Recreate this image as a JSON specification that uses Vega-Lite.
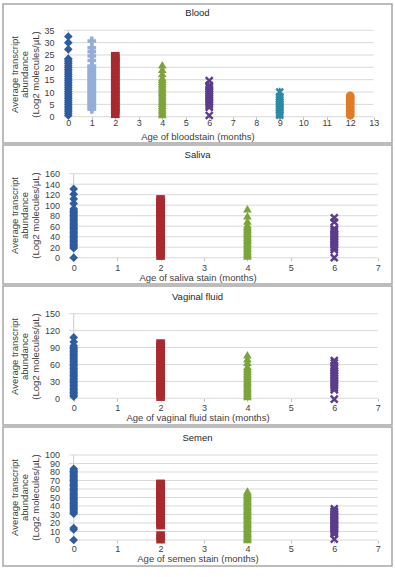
{
  "$schema": "https://vega.github.io/schema/vega-lite/v6.json",
  "background": "white",
  "padding": {"left": 2, "top": 3, "right": 0, "bottom": 0},
  "spacing": 0,
  "datasets": {
    "pts": [
      {"p":"B","age":0,"v":0.5},{"p":"B","age":0,"v":1.25},{"p":"B","age":0,"v":2},{"p":"B","age":0,"v":2.75},{"p":"B","age":0,"v":3.5},{"p":"B","age":0,"v":4.25},{"p":"B","age":0,"v":5},{"p":"B","age":0,"v":5.75},{"p":"B","age":0,"v":6.5},{"p":"B","age":0,"v":7.25},{"p":"B","age":0,"v":8},{"p":"B","age":0,"v":8.75},{"p":"B","age":0,"v":9.5},{"p":"B","age":0,"v":10.25},{"p":"B","age":0,"v":11},{"p":"B","age":0,"v":11.75},{"p":"B","age":0,"v":12.5},{"p":"B","age":0,"v":13.25},{"p":"B","age":0,"v":14},{"p":"B","age":0,"v":14.75},{"p":"B","age":0,"v":15.5},{"p":"B","age":0,"v":16.25},{"p":"B","age":0,"v":17},{"p":"B","age":0,"v":17.75},{"p":"B","age":0,"v":18.5},{"p":"B","age":0,"v":19.25},{"p":"B","age":0,"v":20},{"p":"B","age":0,"v":20.75},{"p":"B","age":0,"v":21.5},{"p":"B","age":0,"v":22.25},{"p":"B","age":0,"v":23},{"p":"B","age":0,"v":23.5},{"p":"B","age":0,"v":27.3},{"p":"B","age":0,"v":30},{"p":"B","age":0,"v":32.5},
      {"p":"B","age":1,"v":3},{"p":"B","age":1,"v":3.75},{"p":"B","age":1,"v":4.5},{"p":"B","age":1,"v":5.25},{"p":"B","age":1,"v":6},{"p":"B","age":1,"v":6.75},{"p":"B","age":1,"v":7.5},{"p":"B","age":1,"v":8.25},{"p":"B","age":1,"v":9},{"p":"B","age":1,"v":9.75},{"p":"B","age":1,"v":10.5},{"p":"B","age":1,"v":11.25},{"p":"B","age":1,"v":12},{"p":"B","age":1,"v":12.75},{"p":"B","age":1,"v":13.5},{"p":"B","age":1,"v":14.25},{"p":"B","age":1,"v":15},{"p":"B","age":1,"v":15.75},{"p":"B","age":1,"v":16.5},{"p":"B","age":1,"v":17.25},{"p":"B","age":1,"v":18},{"p":"B","age":1,"v":18.75},{"p":"B","age":1,"v":19.5},{"p":"B","age":1,"v":20.25},{"p":"B","age":1,"v":20.5},{"p":"B","age":1,"v":22.8},{"p":"B","age":1,"v":24.6},{"p":"B","age":1,"v":26.3},{"p":"B","age":1,"v":27.9},{"p":"B","age":1,"v":30.7},
      {"p":"B","age":2,"v":1.2},{"p":"B","age":2,"v":2.7},{"p":"B","age":2,"v":4.2},{"p":"B","age":2,"v":5.7},{"p":"B","age":2,"v":7.2},{"p":"B","age":2,"v":8.7},{"p":"B","age":2,"v":10.2},{"p":"B","age":2,"v":11.7},{"p":"B","age":2,"v":13.2},{"p":"B","age":2,"v":14.7},{"p":"B","age":2,"v":16.2},{"p":"B","age":2,"v":17.7},{"p":"B","age":2,"v":19.2},{"p":"B","age":2,"v":20.7},{"p":"B","age":2,"v":22.2},{"p":"B","age":2,"v":23.7},{"p":"B","age":2,"v":24.5},
      {"p":"B","age":4,"v":0.9},{"p":"B","age":4,"v":1.65},{"p":"B","age":4,"v":2.4},{"p":"B","age":4,"v":3.15},{"p":"B","age":4,"v":3.9},{"p":"B","age":4,"v":4.65},{"p":"B","age":4,"v":5.4},{"p":"B","age":4,"v":6.15},{"p":"B","age":4,"v":6.9},{"p":"B","age":4,"v":7.65},{"p":"B","age":4,"v":8.4},{"p":"B","age":4,"v":9.15},{"p":"B","age":4,"v":9.9},{"p":"B","age":4,"v":10.65},{"p":"B","age":4,"v":11.4},{"p":"B","age":4,"v":12.15},{"p":"B","age":4,"v":12.9},{"p":"B","age":4,"v":13.65},{"p":"B","age":4,"v":14.4},{"p":"B","age":4,"v":15.15},{"p":"B","age":4,"v":15.9},{"p":"B","age":4,"v":17.5},{"p":"B","age":4,"v":19.2},{"p":"B","age":4,"v":21},
      {"p":"B","age":6,"v":0.5},{"p":"B","age":6,"v":3.8},{"p":"B","age":6,"v":4.55},{"p":"B","age":6,"v":5.3},{"p":"B","age":6,"v":6.05},{"p":"B","age":6,"v":6.8},{"p":"B","age":6,"v":7.55},{"p":"B","age":6,"v":8.3},{"p":"B","age":6,"v":9.05},{"p":"B","age":6,"v":9.8},{"p":"B","age":6,"v":10.55},{"p":"B","age":6,"v":11.3},{"p":"B","age":6,"v":12.05},{"p":"B","age":6,"v":12.7},{"p":"B","age":6,"v":14.6},
      {"p":"B","age":9,"v":0.6},{"p":"B","age":9,"v":1.35},{"p":"B","age":9,"v":2.1},{"p":"B","age":9,"v":2.85},{"p":"B","age":9,"v":3.6},{"p":"B","age":9,"v":4.35},{"p":"B","age":9,"v":5.1},{"p":"B","age":9,"v":5.85},{"p":"B","age":9,"v":6.6},{"p":"B","age":9,"v":7.35},{"p":"B","age":9,"v":8.1},{"p":"B","age":9,"v":10},
      {"p":"B","age":12,"v":0.6},{"p":"B","age":12,"v":1.35},{"p":"B","age":12,"v":2.1},{"p":"B","age":12,"v":2.85},{"p":"B","age":12,"v":3.6},{"p":"B","age":12,"v":4.35},{"p":"B","age":12,"v":5.1},{"p":"B","age":12,"v":5.85},{"p":"B","age":12,"v":6.6},{"p":"B","age":12,"v":7.35},{"p":"B","age":12,"v":8.1},{"p":"B","age":12,"v":8.5},

      {"p":"S","age":0,"v":0},{"p":"S","age":0,"v":18},{"p":"S","age":0,"v":20.5},{"p":"S","age":0,"v":23},{"p":"S","age":0,"v":25.5},{"p":"S","age":0,"v":28},{"p":"S","age":0,"v":30.5},{"p":"S","age":0,"v":33},{"p":"S","age":0,"v":35.5},{"p":"S","age":0,"v":38},{"p":"S","age":0,"v":40.5},{"p":"S","age":0,"v":43},{"p":"S","age":0,"v":45.5},{"p":"S","age":0,"v":48},{"p":"S","age":0,"v":50.5},{"p":"S","age":0,"v":53},{"p":"S","age":0,"v":55.5},{"p":"S","age":0,"v":58},{"p":"S","age":0,"v":60.5},{"p":"S","age":0,"v":63},{"p":"S","age":0,"v":65.5},{"p":"S","age":0,"v":68},{"p":"S","age":0,"v":70.5},{"p":"S","age":0,"v":73},{"p":"S","age":0,"v":75.5},{"p":"S","age":0,"v":78},{"p":"S","age":0,"v":80.5},{"p":"S","age":0,"v":83},{"p":"S","age":0,"v":85.5},{"p":"S","age":0,"v":88},{"p":"S","age":0,"v":90.5},{"p":"S","age":0,"v":93},{"p":"S","age":0,"v":103},{"p":"S","age":0,"v":112},{"p":"S","age":0,"v":121},{"p":"S","age":0,"v":131},
      {"p":"S","age":2,"v":4},{"p":"S","age":2,"v":10},{"p":"S","age":2,"v":16},{"p":"S","age":2,"v":22},{"p":"S","age":2,"v":28},{"p":"S","age":2,"v":34},{"p":"S","age":2,"v":40},{"p":"S","age":2,"v":46},{"p":"S","age":2,"v":52},{"p":"S","age":2,"v":58},{"p":"S","age":2,"v":64},{"p":"S","age":2,"v":70},{"p":"S","age":2,"v":76},{"p":"S","age":2,"v":82},{"p":"S","age":2,"v":88},{"p":"S","age":2,"v":94},{"p":"S","age":2,"v":100},{"p":"S","age":2,"v":106},{"p":"S","age":2,"v":111},
      {"p":"S","age":4,"v":3},{"p":"S","age":4,"v":6},{"p":"S","age":4,"v":9},{"p":"S","age":4,"v":12},{"p":"S","age":4,"v":15},{"p":"S","age":4,"v":18},{"p":"S","age":4,"v":21},{"p":"S","age":4,"v":24},{"p":"S","age":4,"v":27},{"p":"S","age":4,"v":30},{"p":"S","age":4,"v":33},{"p":"S","age":4,"v":36},{"p":"S","age":4,"v":39},{"p":"S","age":4,"v":42},{"p":"S","age":4,"v":45},{"p":"S","age":4,"v":48},{"p":"S","age":4,"v":51},{"p":"S","age":4,"v":54},{"p":"S","age":4,"v":57},{"p":"S","age":4,"v":60},{"p":"S","age":4,"v":63},{"p":"S","age":4,"v":70},{"p":"S","age":4,"v":80},{"p":"S","age":4,"v":93},
      {"p":"S","age":6,"v":0},{"p":"S","age":6,"v":15},{"p":"S","age":6,"v":18},{"p":"S","age":6,"v":21},{"p":"S","age":6,"v":24},{"p":"S","age":6,"v":27},{"p":"S","age":6,"v":30},{"p":"S","age":6,"v":33},{"p":"S","age":6,"v":36},{"p":"S","age":6,"v":39},{"p":"S","age":6,"v":42},{"p":"S","age":6,"v":45},{"p":"S","age":6,"v":48},{"p":"S","age":6,"v":51},{"p":"S","age":6,"v":54},{"p":"S","age":6,"v":55},{"p":"S","age":6,"v":68},{"p":"S","age":6,"v":76},

      {"p":"V","age":0,"v":3},{"p":"V","age":0,"v":5.5},{"p":"V","age":0,"v":8},{"p":"V","age":0,"v":10.5},{"p":"V","age":0,"v":13},{"p":"V","age":0,"v":15.5},{"p":"V","age":0,"v":18},{"p":"V","age":0,"v":20.5},{"p":"V","age":0,"v":23},{"p":"V","age":0,"v":25.5},{"p":"V","age":0,"v":28},{"p":"V","age":0,"v":30.5},{"p":"V","age":0,"v":33},{"p":"V","age":0,"v":35.5},{"p":"V","age":0,"v":38},{"p":"V","age":0,"v":40.5},{"p":"V","age":0,"v":43},{"p":"V","age":0,"v":45.5},{"p":"V","age":0,"v":48},{"p":"V","age":0,"v":50.5},{"p":"V","age":0,"v":53},{"p":"V","age":0,"v":55.5},{"p":"V","age":0,"v":58},{"p":"V","age":0,"v":60.5},{"p":"V","age":0,"v":63},{"p":"V","age":0,"v":65.5},{"p":"V","age":0,"v":68},{"p":"V","age":0,"v":70.5},{"p":"V","age":0,"v":73},{"p":"V","age":0,"v":75.5},{"p":"V","age":0,"v":78},{"p":"V","age":0,"v":80.5},{"p":"V","age":0,"v":83},{"p":"V","age":0,"v":85.5},{"p":"V","age":0,"v":88},{"p":"V","age":0,"v":90.5},{"p":"V","age":0,"v":93},{"p":"V","age":0,"v":100},{"p":"V","age":0,"v":108},
      {"p":"V","age":2,"v":3},{"p":"V","age":2,"v":9},{"p":"V","age":2,"v":15},{"p":"V","age":2,"v":21},{"p":"V","age":2,"v":27},{"p":"V","age":2,"v":33},{"p":"V","age":2,"v":39},{"p":"V","age":2,"v":45},{"p":"V","age":2,"v":51},{"p":"V","age":2,"v":57},{"p":"V","age":2,"v":63},{"p":"V","age":2,"v":69},{"p":"V","age":2,"v":75},{"p":"V","age":2,"v":81},{"p":"V","age":2,"v":87},{"p":"V","age":2,"v":93},{"p":"V","age":2,"v":97},
      {"p":"V","age":4,"v":3},{"p":"V","age":4,"v":6},{"p":"V","age":4,"v":9},{"p":"V","age":4,"v":12},{"p":"V","age":4,"v":15},{"p":"V","age":4,"v":18},{"p":"V","age":4,"v":21},{"p":"V","age":4,"v":24},{"p":"V","age":4,"v":27},{"p":"V","age":4,"v":30},{"p":"V","age":4,"v":33},{"p":"V","age":4,"v":36},{"p":"V","age":4,"v":39},{"p":"V","age":4,"v":42},{"p":"V","age":4,"v":45},{"p":"V","age":4,"v":48},{"p":"V","age":4,"v":51},{"p":"V","age":4,"v":54},{"p":"V","age":4,"v":57},{"p":"V","age":4,"v":64},{"p":"V","age":4,"v":70},{"p":"V","age":4,"v":77},
      {"p":"V","age":6,"v":-1.5},{"p":"V","age":6,"v":15},{"p":"V","age":6,"v":18},{"p":"V","age":6,"v":21},{"p":"V","age":6,"v":24},{"p":"V","age":6,"v":27},{"p":"V","age":6,"v":30},{"p":"V","age":6,"v":33},{"p":"V","age":6,"v":36},{"p":"V","age":6,"v":39},{"p":"V","age":6,"v":42},{"p":"V","age":6,"v":45},{"p":"V","age":6,"v":48},{"p":"V","age":6,"v":51},{"p":"V","age":6,"v":54},{"p":"V","age":6,"v":57},{"p":"V","age":6,"v":63},{"p":"V","age":6,"v":67},

      {"p":"M","age":0,"v":0},{"p":"M","age":0,"v":12.3},{"p":"M","age":0,"v":14},{"p":"M","age":0,"v":31},{"p":"M","age":0,"v":32.5},{"p":"M","age":0,"v":34},{"p":"M","age":0,"v":35.5},{"p":"M","age":0,"v":37},{"p":"M","age":0,"v":38.5},{"p":"M","age":0,"v":40},{"p":"M","age":0,"v":41.5},{"p":"M","age":0,"v":43},{"p":"M","age":0,"v":44.5},{"p":"M","age":0,"v":46},{"p":"M","age":0,"v":47.5},{"p":"M","age":0,"v":49},{"p":"M","age":0,"v":50.5},{"p":"M","age":0,"v":52},{"p":"M","age":0,"v":53.5},{"p":"M","age":0,"v":55},{"p":"M","age":0,"v":56.5},{"p":"M","age":0,"v":58},{"p":"M","age":0,"v":59.5},{"p":"M","age":0,"v":61},{"p":"M","age":0,"v":62.5},{"p":"M","age":0,"v":64},{"p":"M","age":0,"v":65.5},{"p":"M","age":0,"v":67},{"p":"M","age":0,"v":68.5},{"p":"M","age":0,"v":70},{"p":"M","age":0,"v":71.5},{"p":"M","age":0,"v":73},{"p":"M","age":0,"v":74.5},{"p":"M","age":0,"v":76},{"p":"M","age":0,"v":77.5},{"p":"M","age":0,"v":79},{"p":"M","age":0,"v":80.5},{"p":"M","age":0,"v":82},{"p":"M","age":0,"v":83.7},
      {"p":"M","age":2,"v":1},{"p":"M","age":2,"v":5.2},{"p":"M","age":2,"v":17.5},{"p":"M","age":2,"v":20.5},{"p":"M","age":2,"v":23.5},{"p":"M","age":2,"v":26.5},{"p":"M","age":2,"v":29.5},{"p":"M","age":2,"v":32.5},{"p":"M","age":2,"v":35.5},{"p":"M","age":2,"v":38.5},{"p":"M","age":2,"v":41.5},{"p":"M","age":2,"v":44.5},{"p":"M","age":2,"v":47.5},{"p":"M","age":2,"v":50.5},{"p":"M","age":2,"v":53.5},{"p":"M","age":2,"v":56.5},{"p":"M","age":2,"v":59.5},{"p":"M","age":2,"v":62.5},{"p":"M","age":2,"v":65.5},{"p":"M","age":2,"v":66},
      {"p":"M","age":4,"v":0.5},{"p":"M","age":4,"v":2},{"p":"M","age":4,"v":3.5},{"p":"M","age":4,"v":5},{"p":"M","age":4,"v":6.5},{"p":"M","age":4,"v":8},{"p":"M","age":4,"v":9.5},{"p":"M","age":4,"v":11},{"p":"M","age":4,"v":12.5},{"p":"M","age":4,"v":14},{"p":"M","age":4,"v":15.5},{"p":"M","age":4,"v":17},{"p":"M","age":4,"v":18.5},{"p":"M","age":4,"v":20},{"p":"M","age":4,"v":21.5},{"p":"M","age":4,"v":23},{"p":"M","age":4,"v":24.5},{"p":"M","age":4,"v":26},{"p":"M","age":4,"v":27.5},{"p":"M","age":4,"v":29},{"p":"M","age":4,"v":30.5},{"p":"M","age":4,"v":32},{"p":"M","age":4,"v":33.5},{"p":"M","age":4,"v":35},{"p":"M","age":4,"v":36.5},{"p":"M","age":4,"v":38},{"p":"M","age":4,"v":39.5},{"p":"M","age":4,"v":41},{"p":"M","age":4,"v":42.5},{"p":"M","age":4,"v":44},{"p":"M","age":4,"v":45.5},{"p":"M","age":4,"v":47},{"p":"M","age":4,"v":48.5},{"p":"M","age":4,"v":50},{"p":"M","age":4,"v":51.5},{"p":"M","age":4,"v":53},{"p":"M","age":4,"v":54.5},{"p":"M","age":4,"v":56},{"p":"M","age":4,"v":57.5},
      {"p":"M","age":6,"v":1},{"p":"M","age":6,"v":7},{"p":"M","age":6,"v":8.5},{"p":"M","age":6,"v":10},{"p":"M","age":6,"v":11.5},{"p":"M","age":6,"v":13},{"p":"M","age":6,"v":14.5},{"p":"M","age":6,"v":16},{"p":"M","age":6,"v":17.5},{"p":"M","age":6,"v":19},{"p":"M","age":6,"v":20.5},{"p":"M","age":6,"v":22},{"p":"M","age":6,"v":23.5},{"p":"M","age":6,"v":25},{"p":"M","age":6,"v":26.5},{"p":"M","age":6,"v":28},{"p":"M","age":6,"v":29.5},{"p":"M","age":6,"v":31},{"p":"M","age":6,"v":32.5},{"p":"M","age":6,"v":34},{"p":"M","age":6,"v":36.7}
    ]
  },
  "vconcat": [
    {
      "width": 389, "height": 139,
      "title": {"text": "Blood", "offset": -13},
      "layer": [
        {
          "data": {"values": [{"g":0},{"g":5},{"g":10},{"g":15},{"g":20},{"g":25},{"g":30},{"g":35}]},
          "mark": {"type": "rule", "color": "#d9d9d9", "strokeWidth": 1},
          "encoding": {
            "y": {"field": "g", "type": "quantitative", "scale": {"domain": [-10.65, 45.65], "nice": false, "zero": false},
                  "axis": {"values": [0,5,10,15,20,25,30,35], "offset": -61, "labelPadding": 10, "title": ["Average transcript", "abundance", "(Log2 molecules/µL)"], "titleX": -50, "titleY": 70}},
            "x": {"datum": -0.18, "type": "quantitative", "scale": {"domain": [-2.78, 13.78], "nice": false, "zero": false},
                  "axis": {"values": [0,1,2,3,4,5,6,7,8,9,10,11,12,13], "offset": -26.3, "labelPadding": 3.1, "title": "Age of bloodstain (months)", "titleY": 20}},
            "x2": {"datum": 13}
          }
        },
        {
          "data": {"values": [{}]},
          "mark": {"type": "rule", "color": "#cccccc", "strokeWidth": 1},
          "encoding": {
            "x": {"datum": 0, "type": "quantitative", "scale": {"domain": [-2.78, 13.78], "nice": false, "zero": false},
                  "axis": {"values": [0,1,2,3,4,5,6,7,8,9,10,11,12,13], "offset": -26.3, "labelPadding": 3.1, "title": "Age of bloodstain (months)", "titleY": 20}},
            "y": {"datum": 0, "type": "quantitative", "scale": {"domain": [-10.65, 45.65], "nice": false, "zero": false},
                  "axis": {"values": [0,5,10,15,20,25,30,35], "offset": -61, "labelPadding": 10, "title": ["Average transcript", "abundance", "(Log2 molecules/µL)"], "titleX": -50, "titleY": 70}},
            "y2": {"datum": 35}
          }
        },
        {
          "data": {"name": "pts"},
          "transform": [{"filter": "datum.p === 'B'"}],
          "mark": {"type": "point", "filled": true, "opacity": 1, "size": 75, "strokeWidth": 0},
          "encoding": {
            "x": {"field": "age", "type": "quantitative", "scale": {"domain": [-2.78, 13.78], "nice": false, "zero": false},
                  "axis": {"values": [0,1,2,3,4,5,6,7,8,9,10,11,12,13], "offset": -26.3, "labelPadding": 3.1, "title": "Age of bloodstain (months)", "titleY": 20}},
            "y": {"field": "v", "type": "quantitative", "scale": {"domain": [-10.65, 45.65], "nice": false, "zero": false},
                  "axis": {"values": [0,5,10,15,20,25,30,35], "offset": -61, "labelPadding": 10, "title": ["Average transcript", "abundance", "(Log2 molecules/µL)"], "titleX": -50, "titleY": 70}},
            "color": {"field": "age", "type": "nominal", "legend": null,
                      "scale": {"domain": [0,1,2,4,6,9,12], "range": ["#2f5c9f","#95add8","#a8292e","#7ca43a","#5c3c8c","#2c8aa8","#e07b28"]}},
            "shape": {"field": "age", "type": "nominal", "legend": null,
                      "scale": {"domain": [0,1,2,4,6,9,12], "range": ["diamond","cross","square","triangle-up","M-1,-0.6L-0.6,-1L0,-0.4L0.6,-1L1,-0.6L0.4,0L1,0.6L0.6,1L0,0.4L-0.6,1L-1,0.6L-0.4,0Z","M-1,-0.6L-0.6,-1L0,-0.4L0.6,-1L1,-0.6L0.4,0L1,0.6L0.6,1L0,0.4L-0.6,1L-1,0.6L-0.4,0Z M-0.2,-1H0.2V1H-0.2Z","circle"]}}
          }
        }
      ]
    },
    {
      "width": 389, "height": 139,
      "title": {"text": "Saliva", "offset": -14.3},
      "layer": [
        {
          "data": {"values": [{"g":0},{"g":20},{"g":40},{"g":60},{"g":80},{"g":100},{"g":120},{"g":140},{"g":160}]},
          "mark": {"type": "rule", "color": "#d9d9d9", "strokeWidth": 1},
          "encoding": {
            "y": {"field": "g", "type": "quantitative", "scale": {"domain": [-50.1, 214.67], "nice": false, "zero": false},
                  "axis": {"values": [0,20,40,60,80,100,120,140,160], "offset": -66, "labelPadding": 9.5, "title": ["Average transcript", "abundance", "(Log2 molecules/µL)"], "titleX": -55, "titleY": 70}},
            "x": {"datum": -0.11, "type": "quantitative", "scale": {"domain": [-1.628, 7.329], "nice": false, "zero": false},
                  "axis": {"values": [0,1,2,3,4,5,6,7], "offset": -26.3, "labelPadding": 6.3, "title": "Age of saliva stain (months)", "titleY": 19.3}},
            "x2": {"datum": 7}
          }
        },
        {
          "data": {"values": [{}]},
          "mark": {"type": "rule", "color": "#cccccc", "strokeWidth": 1},
          "encoding": {
            "x": {"datum": 0, "type": "quantitative", "scale": {"domain": [-1.628, 7.329], "nice": false, "zero": false},
                  "axis": {"values": [0,1,2,3,4,5,6,7], "offset": -26.3, "labelPadding": 6.3, "title": "Age of saliva stain (months)", "titleY": 19.3}},
            "y": {"datum": 0, "type": "quantitative", "scale": {"domain": [-50.1, 214.67], "nice": false, "zero": false},
                  "axis": {"values": [0,20,40,60,80,100,120,140,160], "offset": -66, "labelPadding": 9.5, "title": ["Average transcript", "abundance", "(Log2 molecules/µL)"], "titleX": -55, "titleY": 70}},
            "y2": {"datum": 160}
          }
        },
        {
          "data": {"name": "pts"},
          "transform": [{"filter": "datum.p === 'S'"}],
          "mark": {"type": "point", "filled": true, "opacity": 1, "size": 75, "strokeWidth": 0},
          "encoding": {
            "x": {"field": "age", "type": "quantitative", "scale": {"domain": [-1.628, 7.329], "nice": false, "zero": false},
                  "axis": {"values": [0,1,2,3,4,5,6,7], "offset": -26.3, "labelPadding": 6.3, "title": "Age of saliva stain (months)", "titleY": 19.3}},
            "y": {"field": "v", "type": "quantitative", "scale": {"domain": [-50.1, 214.67], "nice": false, "zero": false},
                  "axis": {"values": [0,20,40,60,80,100,120,140,160], "offset": -66, "labelPadding": 9.5, "title": ["Average transcript", "abundance", "(Log2 molecules/µL)"], "titleX": -55, "titleY": 70}},
            "color": {"field": "age", "type": "nominal", "legend": null,
                      "scale": {"domain": [0,1,2,4,6,9,12], "range": ["#2f5c9f","#95add8","#a8292e","#7ca43a","#5c3c8c","#2c8aa8","#e07b28"]}},
            "shape": {"field": "age", "type": "nominal", "legend": null,
                      "scale": {"domain": [0,1,2,4,6,9,12], "range": ["diamond","cross","square","triangle-up","M-1,-0.6L-0.6,-1L0,-0.4L0.6,-1L1,-0.6L0.4,0L1,0.6L0.6,1L0,0.4L-0.6,1L-1,0.6L-0.4,0Z","M-1,-0.6L-0.6,-1L0,-0.4L0.6,-1L1,-0.6L0.4,0L1,0.6L0.6,1L0,0.4L-0.6,1L-1,0.6L-0.4,0Z M-0.2,-1H0.2V1H-0.2Z","circle"]}}
          }
        }
      ]
    },
    {
      "width": 389, "height": 139,
      "title": {"text": "Vaginal fluid", "offset": -15},
      "layer": [
        {
          "data": {"values": [{"g":0},{"g":30},{"g":60},{"g":90},{"g":120},{"g":150}]},
          "mark": {"type": "rule", "color": "#d9d9d9", "strokeWidth": 1},
          "encoding": {
            "y": {"field": "g", "type": "quantitative", "scale": {"domain": [-47.34, 199.1], "nice": false, "zero": false},
                  "axis": {"values": [0,30,60,90,120,150], "offset": -66, "labelPadding": 9.5, "title": ["Average transcript", "abundance", "(Log2 molecules/µL)"], "titleX": -55, "titleY": 70}},
            "x": {"datum": -0.11, "type": "quantitative", "scale": {"domain": [-1.628, 7.329], "nice": false, "zero": false},
                  "axis": {"values": [0,1,2,3,4,5,6,7], "offset": -26.7, "labelPadding": 6.4, "title": "Age of vaginal fluid stain (months)", "titleY": 19.4}},
            "x2": {"datum": 7}
          }
        },
        {
          "data": {"values": [{}]},
          "mark": {"type": "rule", "color": "#cccccc", "strokeWidth": 1},
          "encoding": {
            "x": {"datum": 0, "type": "quantitative", "scale": {"domain": [-1.628, 7.329], "nice": false, "zero": false},
                  "axis": {"values": [0,1,2,3,4,5,6,7], "offset": -26.7, "labelPadding": 6.4, "title": "Age of vaginal fluid stain (months)", "titleY": 19.4}},
            "y": {"datum": 0, "type": "quantitative", "scale": {"domain": [-47.34, 199.1], "nice": false, "zero": false},
                  "axis": {"values": [0,30,60,90,120,150], "offset": -66, "labelPadding": 9.5, "title": ["Average transcript", "abundance", "(Log2 molecules/µL)"], "titleX": -55, "titleY": 70}},
            "y2": {"datum": 150}
          }
        },
        {
          "data": {"name": "pts"},
          "transform": [{"filter": "datum.p === 'V'"}],
          "mark": {"type": "point", "filled": true, "opacity": 1, "size": 75, "strokeWidth": 0},
          "encoding": {
            "x": {"field": "age", "type": "quantitative", "scale": {"domain": [-1.628, 7.329], "nice": false, "zero": false},
                  "axis": {"values": [0,1,2,3,4,5,6,7], "offset": -26.7, "labelPadding": 6.4, "title": "Age of vaginal fluid stain (months)", "titleY": 19.4}},
            "y": {"field": "v", "type": "quantitative", "scale": {"domain": [-47.34, 199.1], "nice": false, "zero": false},
                  "axis": {"values": [0,30,60,90,120,150], "offset": -66, "labelPadding": 9.5, "title": ["Average transcript", "abundance", "(Log2 molecules/µL)"], "titleX": -55, "titleY": 70}},
            "color": {"field": "age", "type": "nominal", "legend": null,
                      "scale": {"domain": [0,1,2,4,6,9,12], "range": ["#2f5c9f","#95add8","#a8292e","#7ca43a","#5c3c8c","#2c8aa8","#e07b28"]}},
            "shape": {"field": "age", "type": "nominal", "legend": null,
                      "scale": {"domain": [0,1,2,4,6,9,12], "range": ["diamond","cross","square","triangle-up","M-1,-0.6L-0.6,-1L0,-0.4L0.6,-1L1,-0.6L0.4,0L1,0.6L0.6,1L0,0.4L-0.6,1L-1,0.6L-0.4,0Z","M-1,-0.6L-0.6,-1L0,-0.4L0.6,-1L1,-0.6L0.4,0L1,0.6L0.6,1L0,0.4L-0.6,1L-1,0.6L-0.4,0Z M-0.2,-1H0.2V1H-0.2Z","circle"]}}
          }
        }
      ]
    },
    {
      "width": 389, "height": 139,
      "title": {"text": "Semen", "offset": -15},
      "layer": [
        {
          "data": {"values": [{"g":0},{"g":10},{"g":20},{"g":30},{"g":40},{"g":50},{"g":60},{"g":70},{"g":80},{"g":90},{"g":100}]},
          "mark": {"type": "rule", "color": "#d9d9d9", "strokeWidth": 1},
          "encoding": {
            "y": {"field": "g", "type": "quantitative", "scale": {"domain": [-30.59, 132.9], "nice": false, "zero": false},
                  "axis": {"values": [0,10,20,30,40,50,60,70,80,90,100], "offset": -66, "labelPadding": 9.5, "title": ["Average transcript", "abundance", "(Log2 molecules/µL)"], "titleX": -55, "titleY": 70}},
            "x": {"datum": -0.11, "type": "quantitative", "scale": {"domain": [-1.628, 7.329], "nice": false, "zero": false},
                  "axis": {"values": [0,1,2,3,4,5,6,7], "offset": -26, "labelPadding": 5.3, "title": "Age of semen stain (months)", "titleY": 18.7}},
            "x2": {"datum": 7}
          }
        },
        {
          "data": {"values": [{}]},
          "mark": {"type": "rule", "color": "#cccccc", "strokeWidth": 1},
          "encoding": {
            "x": {"datum": 0, "type": "quantitative", "scale": {"domain": [-1.628, 7.329], "nice": false, "zero": false},
                  "axis": {"values": [0,1,2,3,4,5,6,7], "offset": -26, "labelPadding": 5.3, "title": "Age of semen stain (months)", "titleY": 18.7}},
            "y": {"datum": 0, "type": "quantitative", "scale": {"domain": [-30.59, 132.9], "nice": false, "zero": false},
                  "axis": {"values": [0,10,20,30,40,50,60,70,80,90,100], "offset": -66, "labelPadding": 9.5, "title": ["Average transcript", "abundance", "(Log2 molecules/µL)"], "titleX": -55, "titleY": 70}},
            "y2": {"datum": 100}
          }
        },
        {
          "data": {"name": "pts"},
          "transform": [{"filter": "datum.p === 'M'"}],
          "mark": {"type": "point", "filled": true, "opacity": 1, "size": 75, "strokeWidth": 0},
          "encoding": {
            "x": {"field": "age", "type": "quantitative", "scale": {"domain": [-1.628, 7.329], "nice": false, "zero": false},
                  "axis": {"values": [0,1,2,3,4,5,6,7], "offset": -26, "labelPadding": 5.3, "title": "Age of semen stain (months)", "titleY": 18.7}},
            "y": {"field": "v", "type": "quantitative", "scale": {"domain": [-30.59, 132.9], "nice": false, "zero": false},
                  "axis": {"values": [0,10,20,30,40,50,60,70,80,90,100], "offset": -66, "labelPadding": 9.5, "title": ["Average transcript", "abundance", "(Log2 molecules/µL)"], "titleX": -55, "titleY": 70}},
            "color": {"field": "age", "type": "nominal", "legend": null,
                      "scale": {"domain": [0,1,2,4,6,9,12], "range": ["#2f5c9f","#95add8","#a8292e","#7ca43a","#5c3c8c","#2c8aa8","#e07b28"]}},
            "shape": {"field": "age", "type": "nominal", "legend": null,
                      "scale": {"domain": [0,1,2,4,6,9,12], "range": ["diamond","cross","square","triangle-up","M-1,-0.6L-0.6,-1L0,-0.4L0.6,-1L1,-0.6L0.4,0L1,0.6L0.6,1L0,0.4L-0.6,1L-1,0.6L-0.4,0Z","M-1,-0.6L-0.6,-1L0,-0.4L0.6,-1L1,-0.6L0.4,0L1,0.6L0.6,1L0,0.4L-0.6,1L-1,0.6L-0.4,0Z M-0.2,-1H0.2V1H-0.2Z","circle"]}}
          }
        }
      ]
    }
  ],
  "config": {
    "view": {"stroke": "#a6a6a6", "strokeWidth": 1.5},
    "title": {"anchor": "middle", "baseline": "middle", "font": "Liberation Sans", "fontSize": 9.5, "fontWeight": "normal", "color": "#262626"},
    "axis": {
      "grid": false, "domain": false,
      "labelFont": "Liberation Sans", "labelFontSize": 9, "labelColor": "#404040",
      "titleFont": "Liberation Sans", "titleFontSize": 9.5, "titleFontWeight": "normal", "titleColor": "#404040",
      "labelFlush": false, "labelOverlap": false, "tickColor": "#bfbfbf"
    },
    "axisX": {"ticks": true, "tickSize": 3, "labelBaseline": "middle", "titleBaseline": "middle", "titleAlign": "center"},
    "axisY": {"ticks": false, "tickSize": 0, "titleAngle": -90, "titleAlign": "center", "titleBaseline": "middle", "titleLineHeight": 10.5}
  }
}
